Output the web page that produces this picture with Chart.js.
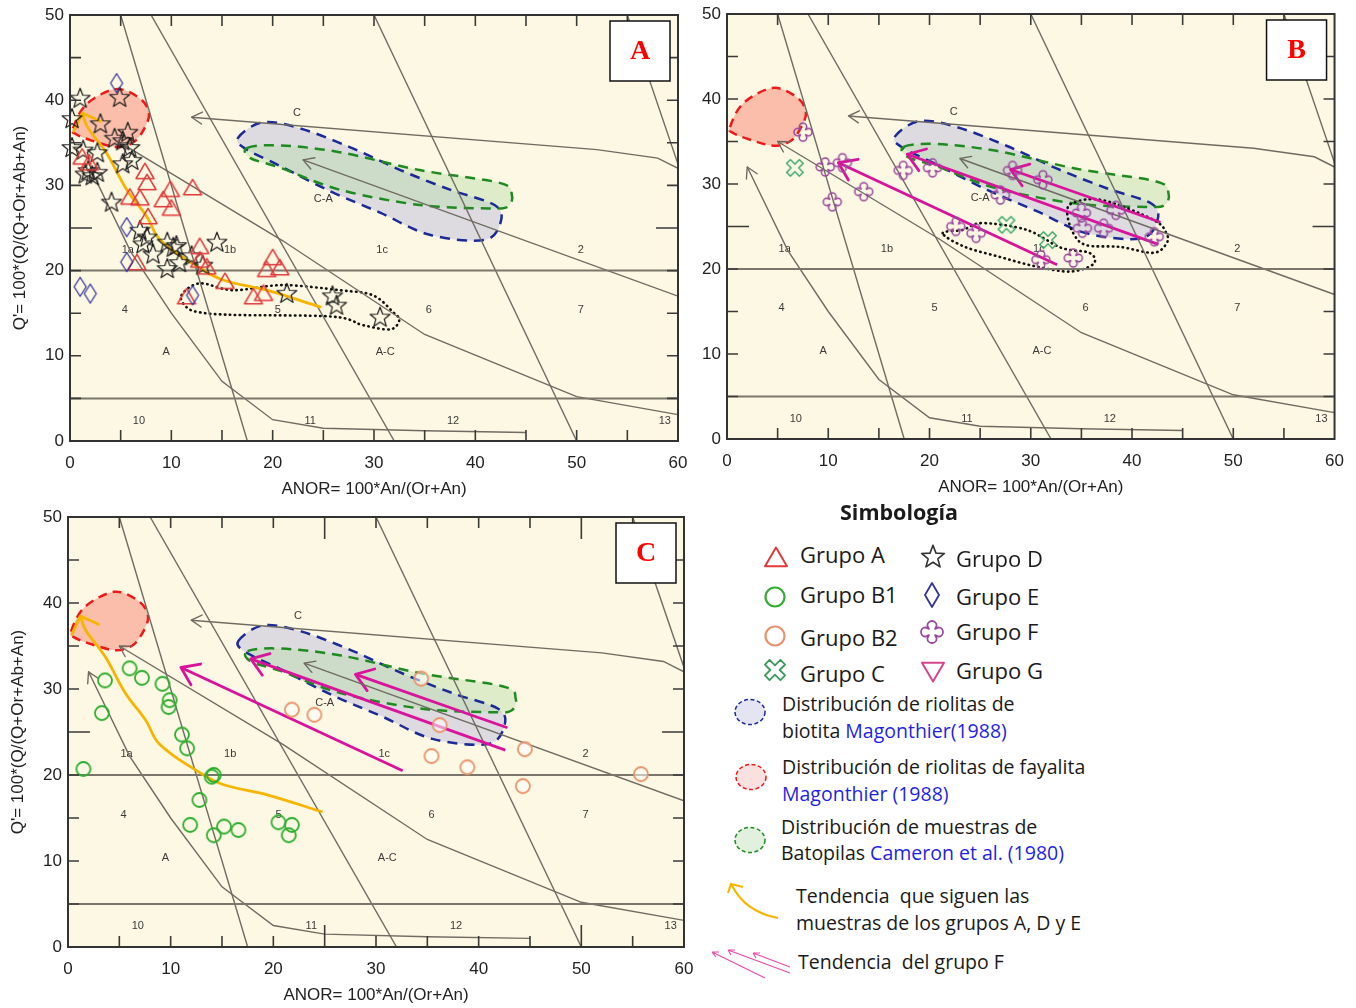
<!DOCTYPE html>
<html lang="es">
<head>
<meta charset="utf-8">
<title>Q' - ANOR</title>
<script src="https://cdn.jsdelivr.net/npm/chart.js@4.4.1/dist/chart.umd.min.js"></script>
<style>
  body { margin:0; background:#fff; }
  #page { position:relative; width:1356px; height:1008px; overflow:hidden; font-family:'Open Sans','Lato',sans-serif; color:#1a1a1a; }
  #page canvas { position:absolute; }
  .lg { position:absolute; white-space:nowrap; line-height:1; }
  .g { font-size:22px; }
  .d { font-size:19.5px; }
  .blue { color:#1f1fe6; }
  svg { position:absolute; overflow:visible; }
</style>
</head>
<body>
<div id="page">
  <canvas id="cA" width="700" height="502" style="left:0;top:-2px"></canvas>
  <canvas id="cB" width="666" height="503" style="left:690px;top:-3px"></canvas>
  <canvas id="cC" width="706" height="508" style="left:0;top:500px"></canvas>

  <div class="lg" style="left:840px;top:501px;font-size:21.5px;font-weight:bold">Simbología</div>
  <div class="lg g" style="left:800px;top:543px">Grupo A</div>
  <div class="lg g" style="left:800px;top:583px">Grupo B1</div>
  <div class="lg g" style="left:800px;top:626px">Grupo B2</div>
  <div class="lg g" style="left:800px;top:662px">Grupo C</div>
  <div class="lg g" style="left:956px;top:547px">Grupo D</div>
  <div class="lg g" style="left:956px;top:585px">Grupo E</div>
  <div class="lg g" style="left:956px;top:620px">Grupo F</div>
  <div class="lg g" style="left:956px;top:659px">Grupo G</div>

  <div class="lg d" style="left:782px;top:694px">Distribución de riolitas de</div>
  <div class="lg d" style="left:782px;top:721px">biotita <span class="blue">Magonthier(1988)</span></div>
  <div class="lg d" style="left:782px;top:757px">Distribución de riolitas de fayalita</div>
  <div class="lg d" style="left:782px;top:784px"><span class="blue">Magonthier (1988)</span></div>
  <div class="lg d" style="left:781px;top:817px">Distribución de muestras de</div>
  <div class="lg d" style="left:781px;top:843px">Batopilas <span class="blue">Cameron et al. (1980)</span></div>
  <div class="lg d" style="left:796px;top:886px">Tendencia&nbsp; que siguen las</div>
  <div class="lg d" style="left:796px;top:913px">muestras de los grupos A, D y E</div>
  <div class="lg d" style="left:798px;top:952px">Tendencia&nbsp; del grupo F</div>

  <svg style="left:700px;top:500px" width="656" height="508" viewBox="700 500 656 508">
    <ellipse cx="750" cy="712" rx="15" ry="12.5" fill="#e4e4f2" stroke="#1b2a96" stroke-width="1.5" stroke-dasharray="4,2.5"/>
    <ellipse cx="751" cy="777" rx="15" ry="12.5" fill="#fbe0e0" stroke="#f01818" stroke-width="1.5" stroke-dasharray="4,2.5"/>
    <ellipse cx="750" cy="840" rx="15" ry="12.5" fill="#e2f0de" stroke="#1f8a1f" stroke-width="1.5" stroke-dasharray="4,2.5"/>
    <path d="M778,918 Q745,912 731,884" fill="none" stroke="#f5b800" stroke-width="2.2"/>
    <path d="M728,893 L731,884 L743,887" fill="none" stroke="#f5b800" stroke-width="2.2"/>
    <g stroke="#e84aa8" stroke-width="1.1" fill="none">
      <path d="M712,952 L765,978 M712,952 L719,952 M712,952 L716,957"/>
      <path d="M728,950 L790,973 M728,950 L735,950 M728,950 L731,955"/>
      <path d="M753,953 L790,967 M753,953 L760,953 M753,953 L756,958"/>
    </g>
  </svg>
</div>

<script>
// ---------- data ----------
const xTitle = 'ANOR= 100*An/(Or+An)';
const yTitle = "Q'= 100*(Q/(Q+Or+Ab+An)";

// field boundaries of the Q'-ANOR diagram
const boundH20 = [[0,20],[60,20]];
const boundH5 = [[0,5],[60,5]];
const bound1 = [[5,50],[17.5,0]];
const bound2 = [[8,50],[32,0]];
const bound3 = [[30,50],[50,0]];
const bound4 = [[55,50],[60,32.5]];
// trend arrows (first point is the arrow tip)
const arrowC = [[12,38],[52,34.2],[58,33.2],[60,32]];
const arrowCA = [[23,33],[60,17]];
const arrowAC = [[5,35],[21,23.5],[35,12.5],[50,5.2],[60,3.1]];
const arrowA = [[2,32],[6,22.2],[10,15],[15,7],[20,2.5],[25,1.5],[35,1.2],[45,1]];

const fieldLabels = [
  ['C',22.4,38.5],['C-A',25,28.4],['1a',5.7,22.4],['1b',15.8,22.4],['1c',30.8,22.4],['2',50.4,22.4],
  ['4',5.4,15.4],['5',20.5,15.4],['6',35.4,15.4],['7',50.4,15.4],['A',9.5,10.4],['A-C',31.1,10.4],
  ['10',6.8,2.4],['11',23.7,2.4],['12',37.8,2.4],['13',58.7,2.4]
];

// outlined distributions
const fayalita = [[0.3,36.7],[1.6,39.5],[4.5,41.3],[6.9,40.2],[7.8,38.4],[7.2,36.4],[6.2,35],[4.6,34.5],[2.3,35.2],[0.6,36]];
const biotita = [[16.6,35.6],[19,37.4],[22.7,36.7],[27.6,34.5],[32.6,31.8],[37.5,29.5],[41.9,27.7],[42.5,25.7],[40.9,23.6],[35.5,24.2],[30.6,26.8],[25.7,29.3],[20.7,32.3],[17.3,34.3]];
const batopilas = [[17.5,34.4],[20.7,34.7],[26.6,33.9],[34.5,31.8],[42.4,30.3],[43.6,28.9],[43.2,27.5],[41.4,27.3],[34.5,27.7],[26.6,29.5],[20.7,32.1],[17.8,33.2]];
const dottedA = [[11,17.1],[12.8,18.5],[16.1,17.7],[21,18.3],[26.6,17.7],[29.9,17.1],[31.9,15.1],[32.5,14.2],[31.6,13.1],[28.9,13.6],[25.9,14.6],[16.1,14.8],[12.8,15.1],[11.5,15.7]];
const dottedB1 = [[21.3,24.2],[23.3,24.6],[25.2,25.4],[29.6,24.6],[33,22.5],[35.8,21.9],[36.2,20.6],[33.9,19.7],[30.5,20.3],[27,21.4],[23.5,22.6]];
const dottedB2 = [[33.6,26.6],[34.2,27.8],[37.1,28.1],[42.1,25.8],[43.4,24.2],[43.4,23],[42.1,21.9],[38.8,22.6],[35.5,22.8],[34.2,24.2]];

// trends
const trendADE = [[1.2,38.5],[1.7,36.9],[3.6,33.8],[5.6,29.5],[7.6,26.3],[8.9,23.6],[12.8,20.3],[15.1,18.9],[19.4,17.7],[24.8,15.7]];
const trendF1 = [[11,32.5],[32.6,20.5]];
const trendF2 = [[17.8,33.5],[42.6,22.9]];
const trendF3 = [[28,31.7],[42.8,25.5]];

// samples
const grupoA = [[1.2,33.3],[1.9,32.6],[7.4,31.6],[7.6,30.3],[9.9,29.5],[12.1,29.7],[5.9,28.6],[6.9,28.5],[9.2,28.3],[10,27.3],[7.7,26.3],[12.8,22.8],[12.8,21.2],[13.5,20.4],[6.6,20.9],[15.3,18.7],[18.1,16.9],[19.1,17.3],[20,21.5],[19.4,20.1],[20.7,20.3],[11.5,16.9]];
const grupoD = [[1,40.3],[0.2,37.9],[3,37.3],[4.9,40.4],[5.7,36.3],[4.4,35.6],[5.2,35.3],[5.9,34.5],[0.2,34.5],[1.3,34.2],[2.7,33.9],[5.2,32.6],[6.1,33],[1.8,31.8],[2.2,31.2],[2.7,31.6],[1.5,31.4],[4.1,28.1],[6.9,24.8],[7.6,24],[7.2,23.2],[9.6,23.4],[10.5,23],[14.5,23.4],[8.2,22],[9.6,20.3],[10.8,21],[10.2,22.8],[12,21.8],[13.1,20.7],[21.4,17.4],[25.9,17.1],[26.3,16],[30.6,14.6]];
const grupoE = [[4.6,42],[5.6,25.1],[1,18.1],[2,17.3],[5.6,21],[12.1,17.1]];
const grupoF = [[7.5,36.1],[9.7,32],[11.4,32.5],[10.4,27.9],[13.5,29.1],[17.4,31.6],[20.3,31.9],[27,28.7],[28.2,31.6],[22.6,25],[24.6,24.2],[31.2,30.5],[38.4,26.9],[35,26.6],[35.1,24.8],[37.2,24.8],[42.2,23.8],[31,21.1],[34.2,21.3]];
const grupoC = [[6.7,31.9],[27.6,25.2],[31.7,23.4]];
const grupoB1 = [[3.6,31],[6,32.4],[7.2,31.3],[9.2,30.6],[9.9,28.7],[9.8,27.9],[3.3,27.2],[11.1,24.7],[11.6,23.1],[1.5,20.7],[14,19.8],[14.2,20],[12.8,17.1],[11.9,14.2],[14.2,13],[15.2,14],[16.6,13.6],[20.5,14.5],[21.8,14.2],[21.5,13]];
const grupoB2 = [[21.8,27.6],[24,27],[34.4,31.2],[36.2,25.8],[35.4,22.2],[38.9,20.9],[44.5,23],[44.3,18.7],[55.8,20.1]];

// ---------- marker shapes ----------
function pTriangle(g, s, down) {
  const k = down ? -1 : 1;
  g.beginPath();
  g.moveTo(0, -s * 0.95 * k);
  g.lineTo(s, s * 0.75 * k);
  g.lineTo(-s, s * 0.75 * k);
  g.closePath();
}
function pStar(g, R) {
  g.beginPath();
  for (let i = 0; i < 10; i++) {
    const r = i % 2 ? R * 0.42 : R;
    const a = -Math.PI / 2 + i * Math.PI / 5;
    const x = r * Math.cos(a), y = r * Math.sin(a) + R * 0.1;
    i ? g.lineTo(x, y) : g.moveTo(x, y);
  }
  g.closePath();
}
function pDiamond(g, w, h) {
  g.beginPath();
  g.moveTo(0, -h); g.lineTo(w, 0); g.lineTo(0, h); g.lineTo(-w, 0);
  g.closePath();
}
function pCircle(g, r) {
  g.beginPath(); g.arc(0, 0, r, 0, Math.PI * 2);
}
function pClover(g, r) {
  const w = r * 0.42, ic = r * 0.28;
  g.beginPath();
  for (let k = 0; k < 4; k++) {
    const a = k * Math.PI / 2, ca = Math.cos(a), sa = Math.sin(a);
    const rot = (x, y) => [x * ca - y * sa, x * sa + y * ca];
    const c1 = rot(ic, -ic), p1 = rot(r - w, -w), cc = rot(r - w, 0), c2 = rot(ic, ic);
    k ? g.lineTo(c1[0], c1[1]) : g.moveTo(c1[0], c1[1]);
    g.lineTo(p1[0], p1[1]);
    g.arc(cc[0], cc[1], w, a - Math.PI / 2, a + Math.PI / 2);
    g.lineTo(c2[0], c2[1]);
  }
  g.closePath();
}
function pX(g, r) {
  const hw = r * 0.3;
  g.beginPath();
  for (let k = 0; k < 4; k++) {
    const a = Math.PI / 4 + k * Math.PI / 2, ca = Math.cos(a), sa = Math.sin(a);
    const rot = (x, y) => [x * ca - y * sa, x * sa + y * ca];
    const pts = [rot(hw, -hw), rot(r, -hw), rot(r, hw)];
    pts.forEach((p, i) => (k === 0 && i === 0) ? g.moveTo(p[0], p[1]) : g.lineTo(p[0], p[1]));
  }
  g.closePath();
}
function marker(size, color, lw, draw, fill) {
  const c = document.createElement('canvas');
  c.width = c.height = size;
  const g = c.getContext('2d');
  g.translate(size / 2, size / 2);
  draw(g);
  if (fill) { g.fillStyle = fill; g.fill(); }
  g.strokeStyle = color; g.lineWidth = lw; g.lineJoin = 'round';
  g.stroke();
  return c;
}

const colA = '#e23a3a', colD = '#1c1c1c', colE = '#34349a', colF = '#9a4a9e', colC = '#3eaa6e',
      colB1 = '#2fae2f', colB2 = '#e9936a', colG = '#d5458e';

const mA = marker(24, colA, 1.5, g => pTriangle(g, 9));
const mD = marker(26, colD, 1.2, g => pStar(g, 10.5));
const mE = marker(24, colE, 1.3, g => pDiamond(g, 6, 9.5));
const mF = marker(24, colF, 1.5, g => pClover(g, 9));
const mC = marker(24, colC, 1.5, g => pX(g, 9));
const mB1 = marker(20, colB1, 1.8, g => pCircle(g, 7));
const mB2 = marker(20, colB2, 1.8, g => pCircle(g, 7), 'rgba(255,255,255,0.55)');

// legend markers
function placeMarker(c, cx, cy) {
  c.style.left = (cx - c.width / 2) + 'px';
  c.style.top = (cy - c.height / 2) + 'px';
  document.getElementById('page').appendChild(c);
}
placeMarker(marker(30, colA, 2, g => pTriangle(g, 11)), 776, 558);
placeMarker(marker(30, colB1, 2.2, g => pCircle(g, 9.5)), 775, 597);
placeMarker(marker(30, colB2, 2.2, g => pCircle(g, 9.5)), 775, 636);
placeMarker(marker(30, '#3a9a5a', 1.8, g => pX(g, 11)), 775, 670);
placeMarker(marker(30, '#333', 1.6, g => pStar(g, 12)), 933, 556);
placeMarker(marker(30, colE, 1.8, g => pDiamond(g, 7, 12)), 932, 595);
placeMarker(marker(30, colF, 1.8, g => pClover(g, 11)), 932, 632);
placeMarker(marker(30, colG, 2, g => pTriangle(g, 11, true)), 933, 671);

// ---------- drawing helpers ----------
function smoothClosed(ctx, pts) {
  const n = pts.length;
  ctx.beginPath();
  ctx.moveTo(pts[0][0], pts[0][1]);
  for (let i = 0; i < n; i++) {
    const p0 = pts[(i - 1 + n) % n], p1 = pts[i], p2 = pts[(i + 1) % n], p3 = pts[(i + 2) % n];
    ctx.bezierCurveTo(p1[0] + (p2[0] - p0[0]) / 6, p1[1] + (p2[1] - p0[1]) / 6,
                      p2[0] - (p3[0] - p1[0]) / 6, p2[1] - (p3[1] - p1[1]) / 6, p2[0], p2[1]);
  }
  ctx.closePath();
}

// one plugin per panel; the panel settings live in the closure
function diagramPlugin(cfg) {
  return {
    id: 'diagram',
    beforeDraw(chart) {
      const {ctx, chartArea: a} = chart;
      ctx.save();
      ctx.fillStyle = '#fdf8e3';
      ctx.fillRect(a.left, a.top, a.right - a.left, a.bottom - a.top);
      ctx.restore();
    },
    beforeDatasetsDraw(chart) {
      const {ctx, chartArea: a, scales: {x, y}} = chart;
      const px = pts => pts.map(p => [x.getPixelForValue(p[0]), y.getPixelForValue(p[1])]);
      ctx.save();
      ctx.beginPath(); ctx.rect(a.left, a.top, a.right - a.left, a.bottom - a.top); ctx.clip();
      cfg.blobs.forEach(b => {
        if (!b.fill) return;
        smoothClosed(ctx, px(b.data));
        ctx.fillStyle = b.fill; ctx.fill();
      });
      cfg.blobs.forEach(b => {
        smoothClosed(ctx, px(b.data));
        ctx.setLineDash(b.dash); ctx.lineWidth = b.width; ctx.strokeStyle = b.stroke;
        ctx.lineCap = b.cap || 'butt';
        ctx.stroke();
      });
      ctx.setLineDash([]);
      // field names
      ctx.fillStyle = '#3a3a3a';
      ctx.font = '11px "Liberation Sans", Arial, sans-serif';
      ctx.textAlign = 'center'; ctx.textBaseline = 'middle';
      fieldLabels.forEach(l => ctx.fillText(l[0], x.getPixelForValue(l[1]), y.getPixelForValue(l[2])));
      // arrow heads
      ctx.lineCap = 'round';
      cfg.heads.forEach(h => {
        const t = {x: x.getPixelForValue(h.data[0][0]), y: y.getPixelForValue(h.data[0][1])};
        const f = {x: x.getPixelForValue(h.data[1][0]), y: y.getPixelForValue(h.data[1][1])};
        const dx = f.x - t.x, dy = f.y - t.y, d = Math.hypot(dx, dy), ux = dx / d, uy = dy / d;
        ctx.beginPath();
        [-1, 1].forEach(s => {
          const an = s * h.ang * Math.PI / 180, c = Math.cos(an), sn = Math.sin(an);
          ctx.moveTo(t.x, t.y);
          ctx.lineTo(t.x + (ux * c - uy * sn) * h.len, t.y + (ux * sn + uy * c) * h.len);
        });
        ctx.strokeStyle = h.color; ctx.lineWidth = h.width; ctx.stroke();
      });
      ctx.restore();
    },
    afterDraw(chart) {
      const {ctx, chartArea: a, scales: {x, y}} = chart;
      ctx.save();
      ctx.strokeStyle = '#3a3a3a';
      ctx.lineWidth = 1.6;
      ctx.beginPath();
      x.ticks.forEach(t => {
        const p = x.getPixelForValue(t.value);
        const len = cfg.majorX.includes(t.value) ? 22 : 11;
        if (t.value > 0 && t.value < 60) {
          ctx.moveTo(p, a.bottom); ctx.lineTo(p, a.bottom - len);
          ctx.moveTo(p, a.top); ctx.lineTo(p, a.top + len);
        }
      });
      y.ticks.forEach(t => {
        const p = y.getPixelForValue(t.value);
        const len = t.value === 25 ? 22 : 11;
        if (t.value > 0 && t.value < 50) {
          ctx.moveTo(a.left, p); ctx.lineTo(a.left + len, p);
          ctx.moveTo(a.right, p); ctx.lineTo(a.right - len, p);
        }
      });
      ctx.stroke();
      ctx.lineWidth = 2;
      ctx.strokeStyle = '#333';
      ctx.strokeRect(a.left, a.top, a.right - a.left, a.bottom - a.top);
      // panel letter
      const bx = a.right - 68, by = a.top + 6;
      ctx.fillStyle = '#fff';
      ctx.fillRect(bx, by, 60, 60);
      ctx.lineWidth = 1.5; ctx.strokeStyle = '#111';
      ctx.strokeRect(bx, by, 60, 60);
      ctx.fillStyle = '#f00';
      ctx.font = 'bold 28px "Liberation Serif", "Times New Roman", serif';
      ctx.textAlign = 'center'; ctx.textBaseline = 'middle';
      ctx.fillText(cfg.letter, bx + 30, by + 31);
      ctx.restore();
    }
  };
}

const xy = arr => arr.map(p => ({x: p[0], y: p[1]}));
const tickFont = {family: '"Liberation Sans", Arial, sans-serif', size: 17};

function lineSet(data, color, width, extra) {
  return Object.assign({data: xy(data), showLine: true, borderColor: color, borderWidth: width,
    pointRadius: 0, fill: false, order: 2}, extra || {});
}
function pointSet(data, style) {
  return {data: xy(data), pointStyle: style, pointRadius: 5, showLine: false, order: 0, clip: false};
}

function buildChart(id, spec) {
  const grey = '#6f6b63';
  const datasets = spec.points.map(p => pointSet(p[0], p[1]));
  spec.trends.forEach(t => datasets.push(lineSet(t[0], t[1], t[2], {order: 1, tension: t[3] || 0})));
  [boundH20, boundH5].forEach(l => datasets.push(lineSet(l, '#7a766c', 2)));
  [bound1, bound2, bound3, bound4, arrowC, arrowCA, arrowAC, arrowA].forEach(l => datasets.push(lineSet(l, grey, 1.4)));

  const heads = [arrowC, arrowCA, arrowAC, arrowA].map(d => ({data: d, color: grey, width: 1.4, len: 12, ang: 30}));
  spec.trends.forEach(t => heads.push({data: t[0], color: t[1], width: t[2], len: t[4], ang: t[5]}));

  return new Chart(document.getElementById(id), {
    type: 'scatter',
    data: {datasets},
    plugins: [diagramPlugin({blobs: spec.blobs, heads, letter: spec.letter, majorX: spec.majorX})],
    options: {
      responsive: false,
      animation: false,
      events: [],
      layout: {padding: spec.padding},
      plugins: {
        legend: {display: false},
        tooltip: {enabled: false}
      },
      scales: {
        x: {
          type: 'linear', min: 0, max: 60,
          afterFit(s) { s.height = spec.xh; },
          grid: {display: false, drawTicks: false},
          border: {display: false},
          ticks: {stepSize: 5, autoSkip: false, maxRotation: 0, padding: 12, color: '#222', font: tickFont,
                  callback: v => v % 10 === 0 ? String(v) : ''},
          title: {display: true, text: xTitle, color: '#222', font: tickFont, padding: {top: 0, bottom: spec.xtPad}}
        },
        y: {
          type: 'linear', min: 0, max: 50,
          afterFit(s) { s.width = spec.yw; },
          grid: {display: false, drawTicks: false},
          border: {display: false},
          ticks: {stepSize: 5, autoSkip: false, padding: 6, color: '#222', font: tickFont,
                  callback: v => v % 10 === 0 ? String(v) : ''},
          title: {display: spec.yTitle, text: yTitle, color: '#222', font: tickFont, padding: {top: spec.ytPad, bottom: 0}}
        }
      }
    }
  });
}

const blobFay = {data: fayalita, fill: 'rgba(249,180,160,0.85)', stroke: '#f01818', dash: [9, 6], width: 2.5};
const blobBio = {data: biotita, fill: 'rgba(200,200,222,0.6)', stroke: '#1b2a96', dash: [10, 7], width: 2.5};
const blobBat = {data: batopilas, fill: 'rgba(185,222,170,0.45)', stroke: '#1f8a1f', dash: [10, 7], width: 2.5};
const dot = d => ({data: d, fill: null, stroke: '#111', dash: [0.5, 4.5], width: 2.6, cap: 'round'});

const yellow = '#f7b500', magenta = '#d9139c';

buildChart('cA', {
  letter: 'A', padding: {top: 17, right: 22, left: 0, bottom: 0}, yw: 70, xh: 59, xtPad: 0, yTitle: true, ytPad: 10,
  majorX: [],
  points: [[grupoE, mE], [grupoA, mA], [grupoD, mD]],
  trends: [[trendADE, yellow, 2.8, 0.4, 20, 45]],
  blobs: [blobFay, blobBio, blobBat, dot(dottedA)]
});

buildChart('cB', {
  letter: 'B', padding: {top: 17, right: 21, left: 0, bottom: 0}, yw: 37, xh: 61, xtPad: 2, yTitle: false, ytPad: 0,
  majorX: [],
  points: [[grupoC, mC], [grupoF, mF]],
  trends: [[trendF1, magenta, 2.8, 0, 20, 35], [trendF2, magenta, 2.8, 0, 20, 35], [trendF3, magenta, 2.8, 0, 20, 35]],
  blobs: [blobFay, blobBio, blobBat, dot(dottedB1), dot(dottedB2)]
});

buildChart('cC', {
  letter: 'C', padding: {top: 17, right: 22, left: 0, bottom: 0}, yw: 68, xh: 61, xtPad: 2, yTitle: true, ytPad: 8,
  majorX: [25, 50],
  points: [[grupoB2, mB2], [grupoB1, mB1]],
  trends: [[trendADE, yellow, 2.8, 0.4, 20, 45], [trendF1, magenta, 2.8, 0, 20, 35], [trendF2, magenta, 2.8, 0, 20, 35], [trendF3, magenta, 2.8, 0, 20, 35]],
  blobs: [blobFay, blobBio, blobBat]
});
</script>
</body>
</html>
